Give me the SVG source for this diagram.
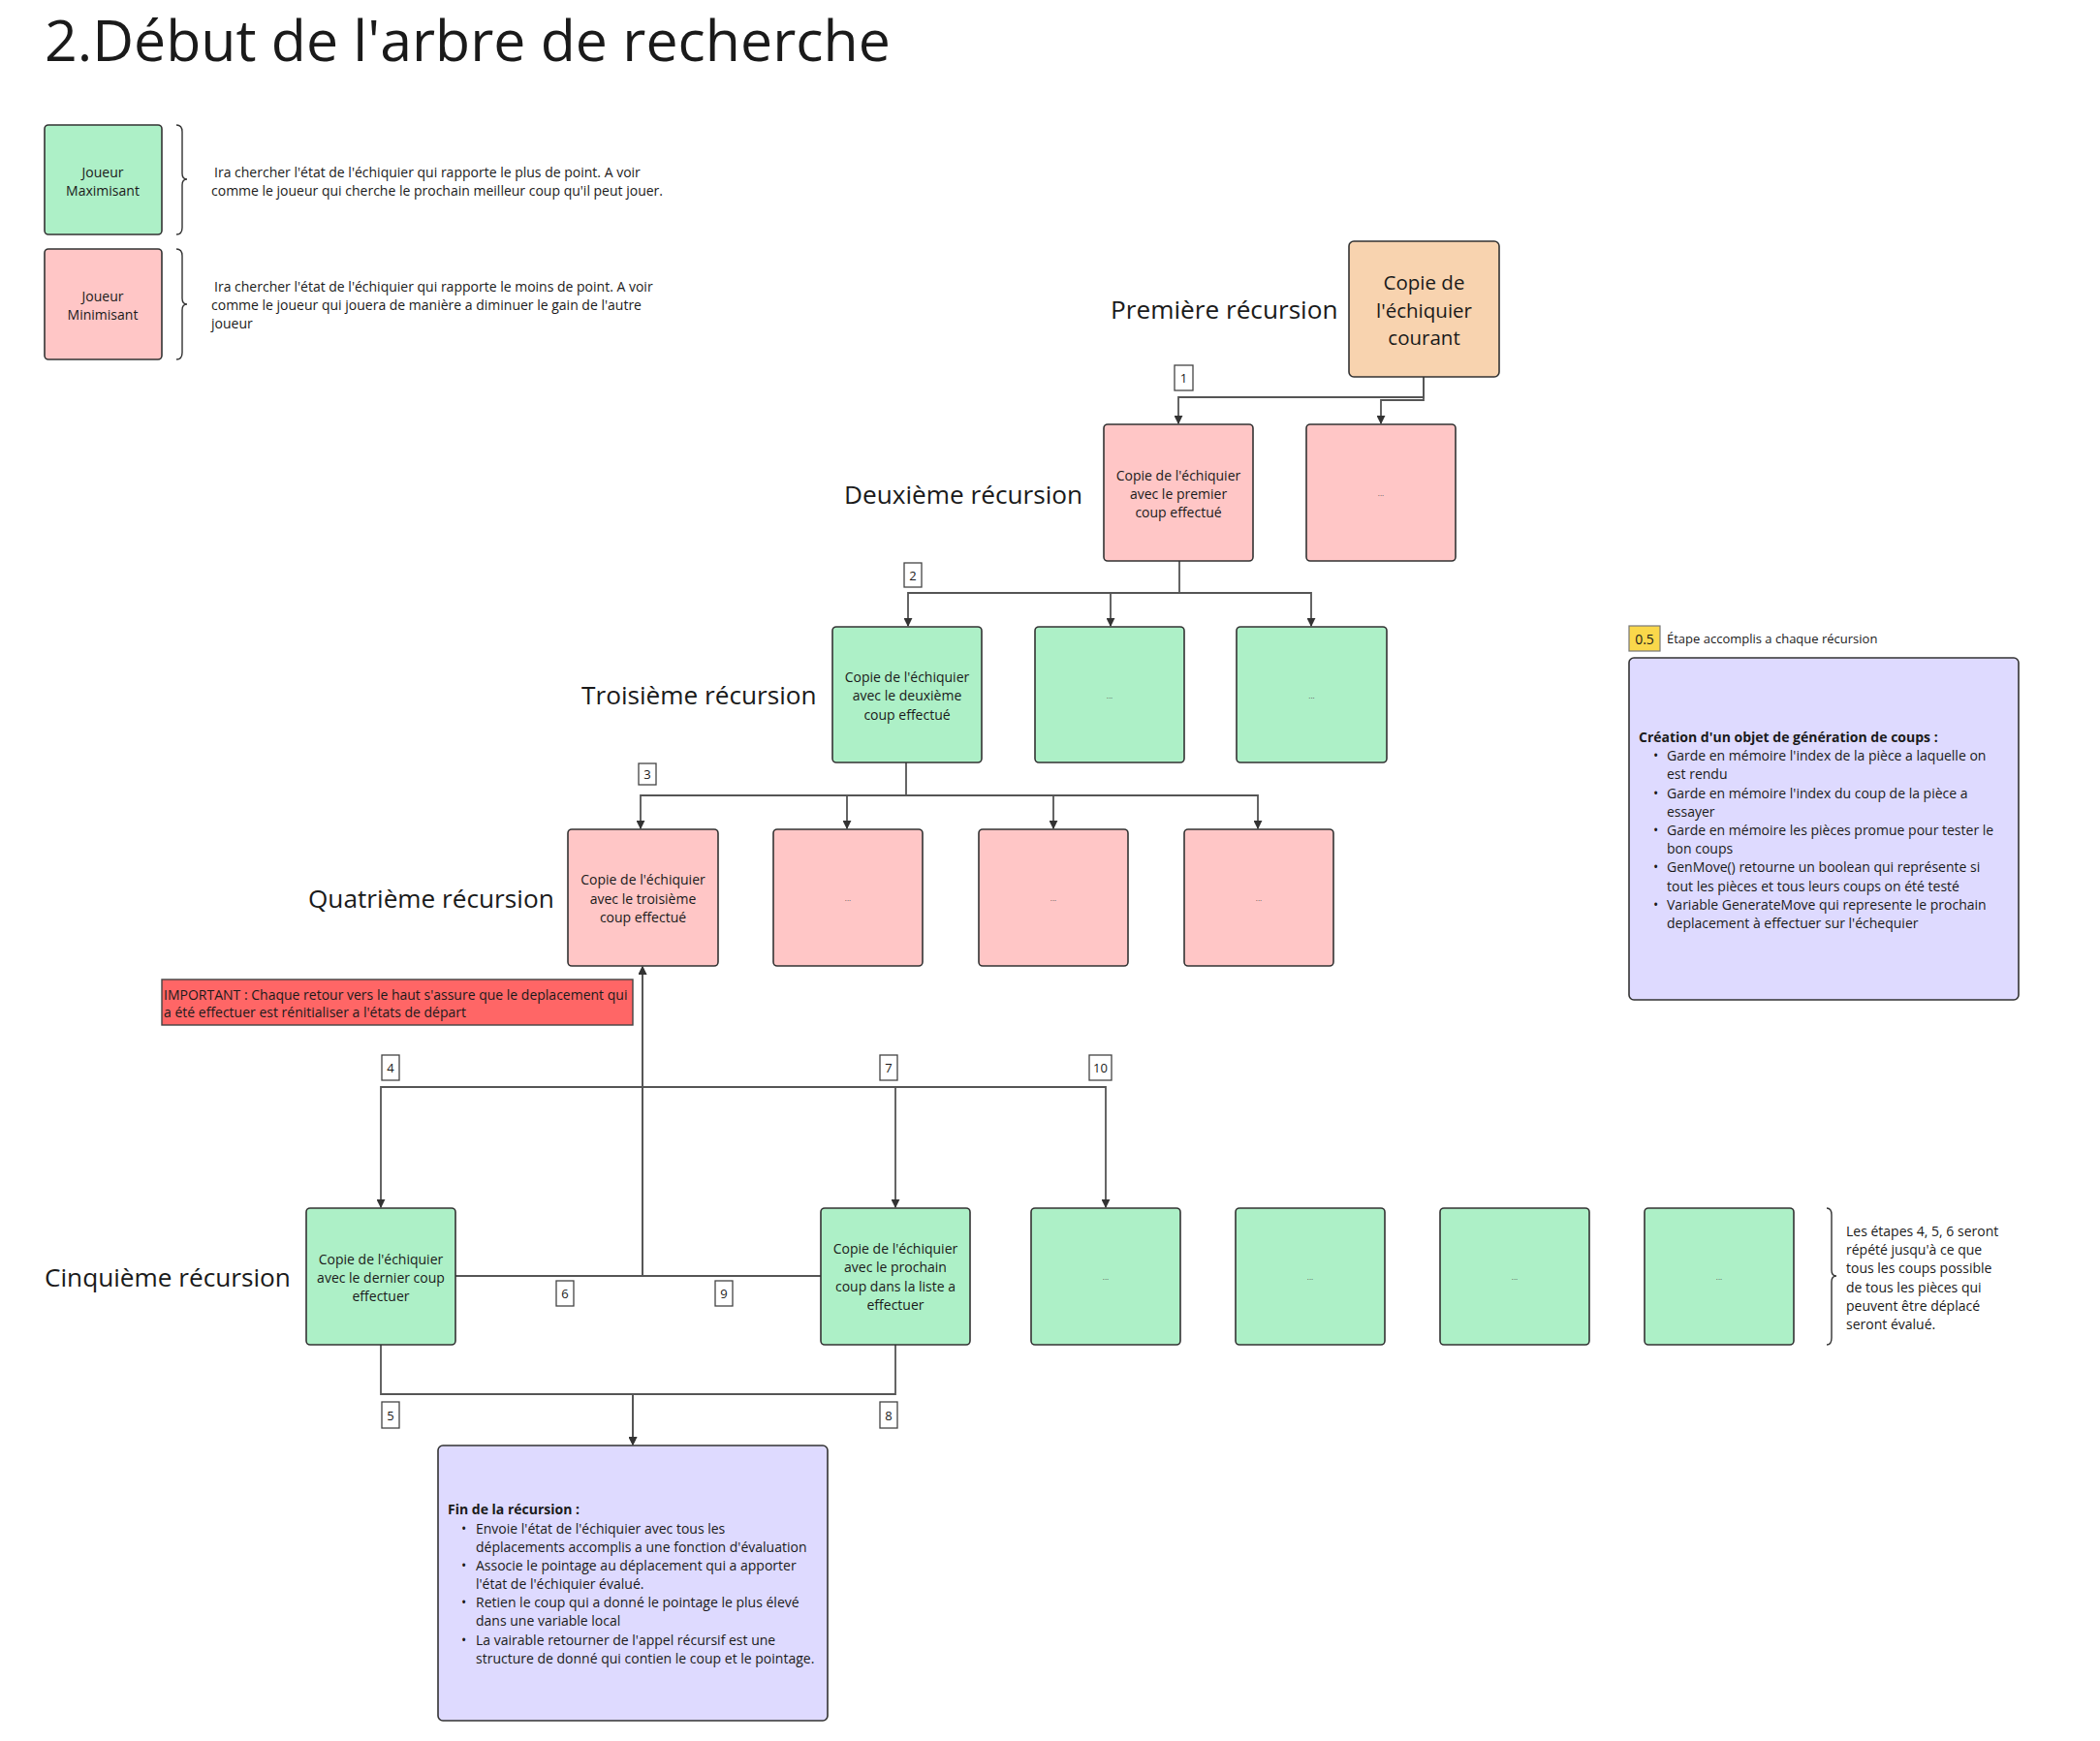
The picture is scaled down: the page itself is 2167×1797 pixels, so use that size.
<svg xmlns="http://www.w3.org/2000/svg" width="2167" height="1797" viewBox="0 0 2167 1797">
<defs>
<marker id="arr" viewBox="0 0 10 10" refX="9" refY="5" markerWidth="9" markerHeight="9" markerUnits="userSpaceOnUse" orient="auto">
<path d="M0,0 L10,5 L0,10 z" fill="#333"/>
</marker>
<style>
text{font-family:"Open Sans","Noto Sans","Liberation Sans",sans-serif;fill:#1a1a1a}
.box{stroke:#333;stroke-width:1.6}
.g{fill:#adf0c7}
.p{fill:#ffc6c6}
.o{fill:#f8d3af}
.v{fill:#dedaff}
.t{font-size:14px;text-anchor:middle;dominant-baseline:central}
.e{font-size:8px;text-anchor:middle;dominant-baseline:central;fill:#555}
.big{font-size:26.2px;dominant-baseline:central}
.lg{font-size:14px;dominant-baseline:central}
.sm{font-size:13px;dominant-baseline:central}
.b{font-size:14px;dominant-baseline:central}
.bold{font-weight:bold}
.lbl rect{fill:#fff;stroke:#444;stroke-width:1.3}
.lbl text{font-size:13px;text-anchor:middle;dominant-baseline:central}
.c{fill:none;stroke:#555;stroke-width:1.8}
.br{fill:none;stroke:#333;stroke-width:1.4}
</style>
</defs>
<rect width="2167" height="1797" fill="#fff"/>

<text x="46" y="63" font-size="59">2.Début de l'arbre de recherche</text>

<g id="legend-max">
<rect class="box g" x="46" y="129" width="121" height="113" rx="4"/>
<text class="t" x="106" y="177">Joueur</text>
<text class="t" x="106" y="196">Maximisant</text>
<path class="br" d="M182,129 Q188,129 188,136 V179 Q188,185 193,185 Q188,185 188,191 V235 Q188,242 182,242"/>
<text class="lg" x="221" y="177"> Ira chercher l'état de l'échiquier qui rapporte le plus de point. A voir</text>
<text class="lg" x="218" y="196">comme le joueur qui cherche le prochain meilleur coup qu'il peut jouer.</text>
</g>
<g id="legend-min">
<rect class="box p" x="46" y="257" width="121" height="114" rx="4"/>
<text class="t" x="106" y="305">Joueur</text>
<text class="t" x="106" y="324">Minimisant</text>
<path class="br" d="M182,257 Q188,257 188,264 V308 Q188,314 193,314 Q188,314 188,320 V364 Q188,371 182,371"/>
<text class="lg" x="221" y="295"> Ira chercher l'état de l'échiquier qui rapporte le moins de point. A voir</text>
<text class="lg" x="218" y="314">comme le joueur qui jouera de manière a diminuer le gain de l'autre</text>
<text class="lg" x="218" y="333">joueur</text>
</g>

<g id="labels-recursion">
<text class="big" x="1146" y="319">Première récursion</text>
<text class="big" x="871" y="510">Deuxième récursion</text>
<text class="big" x="600" y="717">Troisième récursion</text>
<text class="big" x="318" y="927">Quatrième récursion</text>
<text class="big" x="46" y="1318">Cinquième récursion</text>
</g>

<g id="connectors">
<path class="c" d="M1469,389 V410 H1216 V437" marker-end="url(#arr)"/>
<path class="c" d="M1469,389 V413 H1425 V437" marker-end="url(#arr)"/>
<path class="c" d="M1217,579 V612 H937 V646" marker-end="url(#arr)"/>
<path class="c" d="M1217,612 H1146 V646" marker-end="url(#arr)"/>
<path class="c" d="M1217,612 H1353 V646" marker-end="url(#arr)"/>
<path class="c" d="M935,787 V821 H661 V855" marker-end="url(#arr)"/>
<path class="c" d="M935,821 H874 V855" marker-end="url(#arr)"/>
<path class="c" d="M935,821 H1087 V855" marker-end="url(#arr)"/>
<path class="c" d="M935,821 H1298 V855" marker-end="url(#arr)"/>
<path class="c" d="M663,1122 H393 V1246" marker-end="url(#arr)"/>
<path class="c" d="M663,1122 H924 V1246" marker-end="url(#arr)"/>
<path class="c" d="M663,1122 H1141 V1246" marker-end="url(#arr)"/>
<path class="c" d="M470,1317 H663 V998" marker-end="url(#arr)"/>
<path class="c" d="M847,1317 H663 V998" marker-end="url(#arr)"/>
<path class="c" d="M393,1388 V1439 H653 V1491" marker-end="url(#arr)"/>
<path class="c" d="M924,1388 V1439 H653 V1491" marker-end="url(#arr)"/>
<g class="lbl"><rect x="1212" y="377" width="19" height="26"/><text x="1221.5" y="390">1</text></g>
<g class="lbl"><rect x="933" y="581" width="18" height="25"/><text x="942" y="593.5">2</text></g>
<g class="lbl"><rect x="659" y="788" width="18" height="22"/><text x="668" y="799">3</text></g>
<g class="lbl"><rect x="394" y="1089" width="18" height="26"/><text x="403" y="1102">4</text></g>
<g class="lbl"><rect x="908" y="1089" width="18" height="26"/><text x="917" y="1102">7</text></g>
<g class="lbl"><rect x="1124" y="1089" width="23" height="26"/><text x="1135.5" y="1102">10</text></g>
<g class="lbl"><rect x="574" y="1322" width="18" height="26"/><text x="583" y="1335">6</text></g>
<g class="lbl"><rect x="738" y="1322" width="18" height="26"/><text x="747" y="1335">9</text></g>
<g class="lbl"><rect x="394" y="1447" width="18" height="27"/><text x="403" y="1460.5">5</text></g>
<g class="lbl"><rect x="908" y="1447" width="18" height="27"/><text x="917" y="1460.5">8</text></g>
</g>

<g id="n-root">
<rect class="box o" x="1392" y="249" width="155" height="140" rx="5"/>
<text class="t" x="1469.5" y="291" style="font-size:20.5px">Copie de</text>
<text class="t" x="1469.5" y="319.5" style="font-size:20.5px">l'échiquier</text>
<text class="t" x="1469.5" y="348" style="font-size:20.5px">courant</text>
</g>

<g id="n-r2-1">
<rect class="box p" x="1139" y="438" width="154" height="141" rx="4"/>
<text class="t" x="1216" y="490">Copie de l'échiquier</text>
<text class="t" x="1216" y="509">avec le premier</text>
<text class="t" x="1216" y="528">coup effectué</text>
</g>
<g id="n-r2-2"><rect class="box p" x="1348" y="438" width="154" height="141" rx="4"/><text class="e" x="1425" y="508">...</text></g>

<g id="n-r3-1">
<rect class="box g" x="859" y="647" width="154" height="140" rx="4"/>
<text class="t" x="936" y="698">Copie de l'échiquier</text>
<text class="t" x="936" y="717.5">avec le deuxième</text>
<text class="t" x="936" y="737">coup effectué</text>
</g>
<g id="n-r3-2"><rect class="box g" x="1068" y="647" width="154" height="140" rx="4"/><text class="e" x="1145" y="717">...</text></g>
<g id="n-r3-3"><rect class="box g" x="1276" y="647" width="155" height="140" rx="4"/><text class="e" x="1353.5" y="717">...</text></g>

<g id="n-r4-1">
<rect class="box p" x="586" y="856" width="155" height="141" rx="4"/>
<text class="t" x="663.5" y="907.5">Copie de l'échiquier</text>
<text class="t" x="663.5" y="927">avec le troisième</text>
<text class="t" x="663.5" y="946.5">coup effectué</text>
</g>
<g id="n-r4-2"><rect class="box p" x="798" y="856" width="154" height="141" rx="4"/><text class="e" x="875" y="926.5">...</text></g>
<g id="n-r4-3"><rect class="box p" x="1010" y="856" width="154" height="141" rx="4"/><text class="e" x="1087" y="926.5">...</text></g>
<g id="n-r4-4"><rect class="box p" x="1222" y="856" width="154" height="141" rx="4"/><text class="e" x="1299" y="926.5">...</text></g>

<g id="n-important">
<rect x="167" y="1011" width="486" height="47" fill="#ff6666" stroke="#444" stroke-width="1.4"/>
<text class="lg" x="169" y="1026">IMPORTANT : Chaque retour vers le haut s'assure que le deplacement qui</text>
<text class="lg" x="169" y="1044">a été effectuer est rénitialiser a l'états de départ</text>
</g>

<g id="n-r5-1">
<rect class="box g" x="316" y="1247" width="154" height="141" rx="4"/>
<text class="t" x="393" y="1299">Copie de l'échiquier</text>
<text class="t" x="393" y="1318">avec le dernier coup</text>
<text class="t" x="393" y="1337">effectuer</text>
</g>
<g id="n-r5-2">
<rect class="box g" x="847" y="1247" width="154" height="141" rx="4"/>
<text class="t" x="924" y="1288.5">Copie de l'échiquier</text>
<text class="t" x="924" y="1307.5">avec le prochain</text>
<text class="t" x="924" y="1327">coup dans la liste a</text>
<text class="t" x="924" y="1346">effectuer</text>
</g>
<g id="n-r5-3"><rect class="box g" x="1064" y="1247" width="154" height="141" rx="4"/><text class="e" x="1141" y="1317.5">...</text></g>
<g id="n-r5-4"><rect class="box g" x="1275" y="1247" width="154" height="141" rx="4"/><text class="e" x="1352" y="1317.5">...</text></g>
<g id="n-r5-5"><rect class="box g" x="1486" y="1247" width="154" height="141" rx="4"/><text class="e" x="1563" y="1317.5">...</text></g>
<g id="n-r5-6"><rect class="box g" x="1697" y="1247" width="154" height="141" rx="4"/><text class="e" x="1774" y="1317.5">...</text></g>

<g id="n-repeat-note">
<path class="br" d="M1885,1247 Q1890,1247 1890,1254 V1311 Q1890,1317 1895,1317 Q1890,1317 1890,1323 V1381 Q1890,1388 1885,1388"/>
<text class="lg" x="1905" y="1270">Les étapes 4, 5, 6 seront</text>
<text class="lg" x="1905" y="1289">répété jusqu'à ce que</text>
<text class="lg" x="1905" y="1308.5">tous les coups possible</text>
<text class="lg" x="1905" y="1328">de tous les pièces qui</text>
<text class="lg" x="1905" y="1347">peuvent être déplacé</text>
<text class="lg" x="1905" y="1366">seront évalué.</text>
</g>

<g id="n-step05">
<rect x="1681" y="646" width="32" height="26" fill="#fad84b" stroke="#777" stroke-width="1.2"/>
<text class="lg" x="1697" y="659" text-anchor="middle">0.5</text>
<text class="sm" x="1720" y="659">Étape accomplis a chaque récursion</text>
</g>

<g id="n-generation">
<rect class="box v" x="1681" y="679" width="402" height="353" rx="5"/>
<text class="b bold" x="1691" y="760">Création d'un objet de génération de coups :</text>
<text class="b" x="1706" y="779">•</text><text class="b" x="1720" y="779">Garde en mémoire l'index de la pièce a laquelle on</text>
<text class="b" x="1720" y="798">est rendu</text>
<text class="b" x="1706" y="818">•</text><text class="b" x="1720" y="818">Garde en mémoire l'index du coup de la pièce a</text>
<text class="b" x="1720" y="837">essayer</text>
<text class="b" x="1706" y="856">•</text><text class="b" x="1720" y="856">Garde en mémoire les pièces promue pour tester le</text>
<text class="b" x="1720" y="875">bon coups</text>
<text class="b" x="1706" y="894">•</text><text class="b" x="1720" y="894">GenMove() retourne un boolean qui représente si</text>
<text class="b" x="1720" y="914">tout les pièces et tous leurs coups on été testé</text>
<text class="b" x="1706" y="933">•</text><text class="b" x="1720" y="933">Variable GenerateMove qui represente le prochain</text>
<text class="b" x="1720" y="952">deplacement à effectuer sur l'échequier</text>
</g>

<g id="n-fin">
<rect class="box v" x="452" y="1492" width="402" height="284" rx="5"/>
<text class="b bold" x="462" y="1557">Fin de la récursion :</text>
<text class="b" x="476" y="1577">•</text><text class="b" x="491" y="1577">Envoie l'état de l'échiquier avec tous les</text>
<text class="b" x="491" y="1596">déplacements accomplis a une fonction d'évaluation</text>
<text class="b" x="476" y="1615">•</text><text class="b" x="491" y="1615">Associe le pointage au déplacement qui a apporter</text>
<text class="b" x="491" y="1634">l'état de l'échiquier évalué.</text>
<text class="b" x="476" y="1653">•</text><text class="b" x="491" y="1653">Retien le coup qui a donné le pointage le plus élevé</text>
<text class="b" x="491" y="1672">dans une variable local</text>
<text class="b" x="476" y="1692">•</text><text class="b" x="491" y="1692">La vairable retourner de l'appel récursif est une</text>
<text class="b" x="491" y="1711">structure de donné qui contien le coup et le pointage.</text>
</g>
</svg>
